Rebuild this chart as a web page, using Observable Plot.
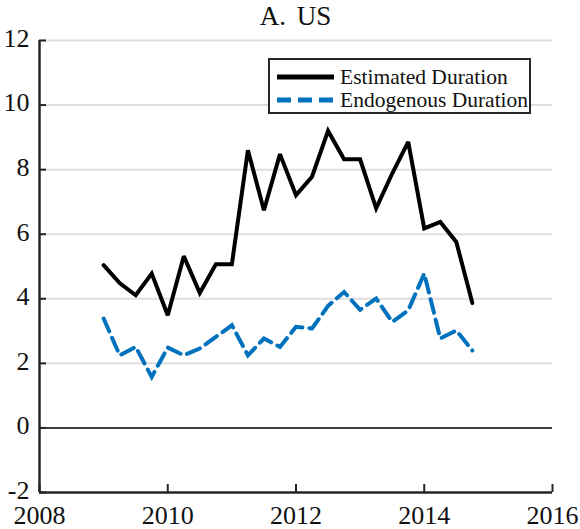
<!DOCTYPE html>
<html>
<head>
<meta charset="utf-8">
<script src="https://cdn.jsdelivr.net/npm/d3@7"></script>
<script src="https://cdn.jsdelivr.net/npm/@observablehq/plot@0.6"></script>
<style>
  html, body { margin: 0; padding: 0; background: #fff; }
  #wrap { position: relative; width: 580px; height: 529px; font-family: "Liberation Serif", "DejaVu Serif", serif; }
  #title { position: absolute; left: 39px; width: 513px; top: 1px; text-align: center; font-size: 27px; line-height: 30px; color: #111; word-spacing: 4px; }
  #legend { position: absolute; left: 268px; top: 58px; width: 259px; height: 52px; border: 2px solid #262626; background: #fff; }
  .row { position: absolute; left: 0; height: 24px; display: flex; align-items: center; }
  .row svg { margin-left: 7px; margin-right: 6px; }
  .row span { font-size: 21.5px; color: #111; white-space: nowrap; }
</style>
</head>
<body>
<div id="wrap">
  <div id="chart"></div>
  <div id="title">A. US</div>
  <div id="legend"></div>
</div>
<script>
const quarters = [2009, 2009.25, 2009.5, 2009.75, 2010, 2010.25, 2010.5, 2010.75,
                  2011, 2011.25, 2011.5, 2011.75, 2012, 2012.25, 2012.5, 2012.75,
                  2013, 2013.25, 2013.5, 2013.75, 2014, 2014.25, 2014.5, 2014.75];
const estimatedDuration = [5.04, 4.49, 4.11, 4.78, 3.49, 5.32, 4.18, 5.07,
                           5.07, 8.60, 6.74, 8.48, 7.21, 7.78, 9.20, 8.32,
                           8.32, 6.80, 7.88, 8.86, 6.18, 6.38, 5.76, 3.87];
const endogenousDuration = [3.39, 2.25, 2.51, 1.58, 2.49, 2.25, 2.46, 2.82,
                            3.18, 2.25, 2.77, 2.51, 3.13, 3.08, 3.78, 4.21,
                            3.66, 4.01, 3.28, 3.64, 4.78, 2.77, 3.02, 2.40];
const seriesNames = ["Estimated Duration", "Endogenous Duration"];
const seriesColors = ["#000000", "#0072BD"];
const xTicks = [2008, 2010, 2012, 2014, 2016];
const yTicks = [-2, 0, 2, 4, 6, 8, 10, 12];
const gridTicks = [2, 4, 6, 8, 10, 12];

const W = 580, H = 529;
const mT = 40, mB = 37, mL = 39, mR = 28;
const plotW = W - mL - mR, plotH = H - mT - mB;

const est = quarters.map((q, i) => ({x: q, y: estimatedDuration[i]}));
const endo = quarters.map((q, i) => ({x: q, y: endogenousDuration[i]}));
const axisColor = "#262626";

const chart = Plot.plot({
  width: W, height: H,
  marginTop: mT, marginBottom: mB, marginLeft: mL, marginRight: mR,
  style: {fontFamily: "'Liberation Serif', 'DejaVu Serif', serif", fontSize: "26px", color: "#111", background: "#fff", overflow: "visible"},
  x: {domain: [2008, 2016], label: null},
  y: {domain: [-2, 12], label: null},
  marks: [
    Plot.ruleY(gridTicks, {stroke: "#dedede", strokeWidth: 2}),
    Plot.ruleY([0], {stroke: "#000", strokeWidth: 1.5}),
    Plot.ruleY(yTicks, {stroke: axisColor, strokeWidth: 2, insetRight: plotW - 7}),
    Plot.ruleX(xTicks, {stroke: axisColor, strokeWidth: 2, insetTop: plotH - 8}),
    Plot.ruleX([2008], {stroke: axisColor, strokeWidth: 2.5}),
    Plot.ruleY([-2], {stroke: axisColor, strokeWidth: 2.5}),
    Plot.line(est, {x: "x", y: "y", stroke: seriesColors[0], strokeWidth: 4, strokeLinejoin: "miter", strokeMiterlimit: 3}),
    Plot.line(endo, {x: "x", y: "y", stroke: seriesColors[1], strokeWidth: 4, strokeDasharray: "14,7", strokeLinejoin: "miter", strokeMiterlimit: 3}),
    Plot.axisY(yTicks, {tickSize: 0, tickPadding: 10, dy: -2, tickFormat: d => String(d), fontSize: 26, label: null}),
    Plot.axisX(xTicks, {tickSize: 0, tickPadding: 13, tickFormat: d => String(d), fontSize: 26, label: null})
  ]
});
document.getElementById("chart").appendChild(chart);

// legend (HTML overlay)
const legend = document.getElementById("legend");
const rowTops = [5, 28];
seriesNames.forEach((name, i) => {
  const row = document.createElement("div");
  row.className = "row";
  row.style.top = rowTops[i] + "px";
  const dash = i === 1 ? 'stroke-dasharray="14,7"' : "";
  row.innerHTML = `<svg width="57" height="8"><line x1="0" x2="57" y1="4" y2="4" stroke="${seriesColors[i]}" stroke-width="5" ${dash}/></svg><span>${name}</span>`;
  legend.appendChild(row);
});
</script>
</body>
</html>
